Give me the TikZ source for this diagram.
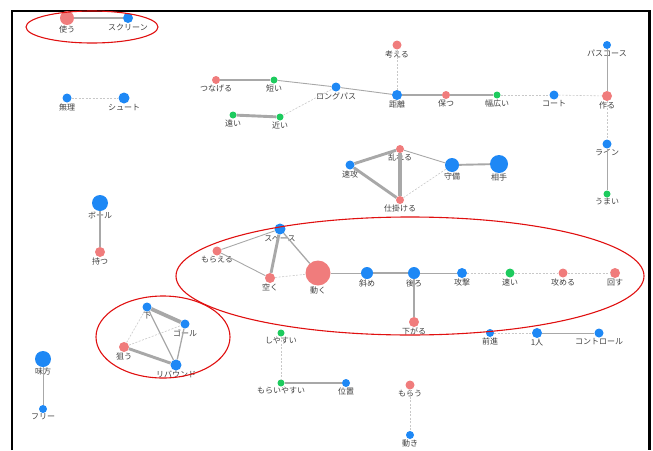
\documentclass[tikz,border=0pt]{standalone}
\usepackage{fontspec}
\setmainfont{Noto Sans CJK JP}
\definecolor{cred}{HTML}{F07C7C}
\definecolor{cblue}{HTML}{1E88F5}
\definecolor{cgreen}{HTML}{1DCB5E}
\definecolor{cedge}{HTML}{A8A8A8}
\definecolor{cdash}{HTML}{C8C8C8}
\definecolor{ctext}{HTML}{404040}
\definecolor{cring}{HTML}{E01010}

\begin{document}
\begin{tikzpicture}[x=1pt,y=-1pt,
    every label/.style={font=\fontsize{8}{9}\selectfont,text=ctext,inner sep=0.5pt},
    label distance=0pt,
    rn/.style={circle,inner sep=0pt,fill=cred,minimum size=#1},
    bn/.style={circle,inner sep=0pt,fill=cblue,minimum size=#1},
    gn/.style={circle,inner sep=0pt,fill=cgreen,minimum size=#1}]

      \useasboundingbox (0,0) rectangle (653,450);
      \draw[line width=2.2pt] (12,450) -- (12,11) -- (649.5,11) -- (649.5,450);

      % top row
      \node[rn=14,label=below:使う] (tsukau) at (67,18) {};
      \node[bn=10,label=below:スクリーン] (screen) at (128,18) {};
      \node[bn=9,label=below:無理] (muri) at (67,98) {};
      \node[bn=11,label=below:シュート] (shoot) at (124,98) {};
      \node[rn=8,label=below:つなげる] (tsunageru) at (216,80) {};
      \node[gn=7,label=below:短い] (mijikai) at (274,80) {};
      \node[bn=9,label=below:ロングパス] (longpass) at (336,87) {};
      \node[bn=10,label=below:距離] (kyori) at (397,95) {};
      \node[rn=9,label=below:考える] (kangaeru) at (397,45) {};
      \node[gn=7,label=below:遠い] (tooi) at (233,115) {};
      \node[gn=7,label=below:近い] (chikai) at (280,117) {};
      \node[rn=8,label=below:保つ] (tamotsu) at (446,95) {};
      \node[gn=7,label=below:幅広い] (habahiroi) at (497,95) {};
      \node[bn=9,label=below:コート] (court) at (554,95) {};
      \node[rn=10,label=below:作る] (tsukuru) at (607,96) {};
      \node[bn=8,label=below:パスコース] (passcourse) at (607,45) {};
      \node[bn=9,label=below:ライン] (line) at (607,144) {};
      \node[gn=7,label=below:うまい] (umai) at (607,194) {};

      % middle
      \node[rn=8,label=below:乱れる] (midareru) at (400,149) {};
      \node[bn=9,label=below:速攻] (sokkou) at (350,165) {};
      \node[rn=8,label=below:仕掛ける] (shikakeru) at (400,200) {};
      \node[bn=14,label=below:守備] (shubi) at (452,165) {};
      \node[bn=18,label=below:相手] (aite) at (499,164) {};
      \node[bn=16,label=below:ボール] (ball) at (100,203) {};
      \node[rn=10,label=below:持つ] (motsu) at (100,252) {};

      % big group
      \node[bn=11,label=below:スペース] (space) at (280,229) {};
      \node[rn=9,label=below:もらえる] (moraeru) at (217,251) {};
      \node[rn=10,label=below:空く] (aku) at (270,278) {};
      \node[rn=25,label=below:動く] (ugoku) at (318,273) {};
      \node[bn=12,label=below:斜め] (naname) at (367,273) {};
      \node[bn=12,label=below:後ろ] (ushiro) at (414,273) {};
      \node[bn=10,label=below:攻撃] (kougeki) at (462,273) {};
      \node[gn=9,label=below:速い] (hayai) at (510,273) {};
      \node[rn=9,label=below:攻める] (semeru) at (563,273) {};
      \node[rn=10,label=below:回す] (mawasu) at (615,273) {};
      \node[rn=10,label=below:下がる] (sagaru) at (414,322) {};
      \node[bn=8,label=below:前進] (zenshin) at (490,333) {};
      \node[bn=10,label=below:1人] (hitori) at (537,333) {};
      \node[bn=9,label=below:コントロール] (control) at (599,333) {};

      % bottom
      \node[bn=9,label=below:下] (shita) at (147,307) {};
      \node[bn=9,label=below:ゴール] (goal) at (185,324) {};
      \node[rn=10,label=below:狙う] (nerau) at (124,347) {};
      \node[bn=11,label=below:リバウンド] (rebound) at (176,365) {};
      \node[bn=16,label=below:味方] (mikata) at (43,359) {};
      \node[bn=8,label=below:フリー] (free) at (43,409) {};
      \node[gn=7,label=below:しやすい] (shiyasui) at (281,333) {};
      \node[gn=7,label=below:もらいやすい] (moraiyasui) at (281,383) {};
      \node[bn=8,label=below:位置] (ichi) at (346,383) {};
      \node[rn=9,label=below:もらう] (morau) at (410,385) {};
      \node[bn=8,label=below:動き] (ugoki) at (410,435) {};

      \begin{scope}[every edge/.style={draw=cedge,line width=0.9pt}]
        \path (mijikai) edge (longpass);
        \path (longpass) edge (kyori);
        \path (passcourse) edge (tsukuru);
        \path (line) edge (umai);
        \path (midareru) edge (shubi);
        \path (mikata) edge (free);
        \path (moraeru) edge (space);
        \path (moraeru) edge (aku);
        \path (ugoku) edge (naname);
        \path (ushiro) edge (kougeki);
        \path (hitori) edge (control);
        \path (space) edge[line width=1.3pt] (ugoku);
        \path (shita) edge[line width=1.3pt] (rebound);
        \path (goal) edge[line width=1.3pt] (rebound);
      \end{scope}

      \begin{scope}[every edge/.style={draw=cedge,line width=1.9pt}]
        \path (tsunageru) edge (mijikai);
        \path (tamotsu) edge (habahiroi);
        \path (shubi) edge (aite);
        \path (ball) edge (motsu);
        \path (naname) edge (ushiro);
        \path (ushiro) edge (sagaru);
        \path (moraiyasui) edge (ichi);
      \end{scope}

      \begin{scope}[every edge/.style={draw=cedge,line width=2.9pt}]
        \path (tsukau) edge (screen);
        \path (tooi) edge (chikai);
        \path (kyori) edge (tamotsu);
        \path (sokkou) edge (midareru);
        \path (sokkou) edge (shikakeru);
        \path (space) edge (aku);
        \path (nerau) edge (rebound);
        \path (midareru) edge[line width=3.8pt] (shikakeru);
        \path (shita) edge[line width=3.8pt] (goal);
      \end{scope}

      \begin{scope}[every edge/.style={draw=cdash,line width=0.6pt,dash pattern=on 2pt off 1.5pt}]
        \path (muri) edge (shoot);
        \path (kangaeru) edge (kyori);
        \path (chikai) edge (longpass);
        \path (habahiroi) edge (court);
        \path (court) edge (tsukuru);
        \path (tsukuru) edge (line);
        \path (shikakeru) edge (shubi);
        \path (aku) edge (ugoku);
        \path (kougeki) edge (hayai);
        \path (hayai) edge (semeru);
        \path (semeru) edge (mawasu);
        \path (zenshin) edge (hitori);
        \path (nerau) edge (shita);
        \path (nerau) edge (goal);
        \path (shiyasui) edge (moraiyasui);
        \path (morau) edge (ugoki);
      \end{scope}

      % groups
      \begin{scope}[draw=cring,line width=1.1pt]
        \draw (92,27) ellipse [x radius=66pt,y radius=16pt];
        \draw (410,276) ellipse [x radius=234pt,y radius=59pt];
        \draw (163,337) ellipse [x radius=67pt,y radius=41pt];
      \end{scope}

    \end{tikzpicture}
\end{document}
